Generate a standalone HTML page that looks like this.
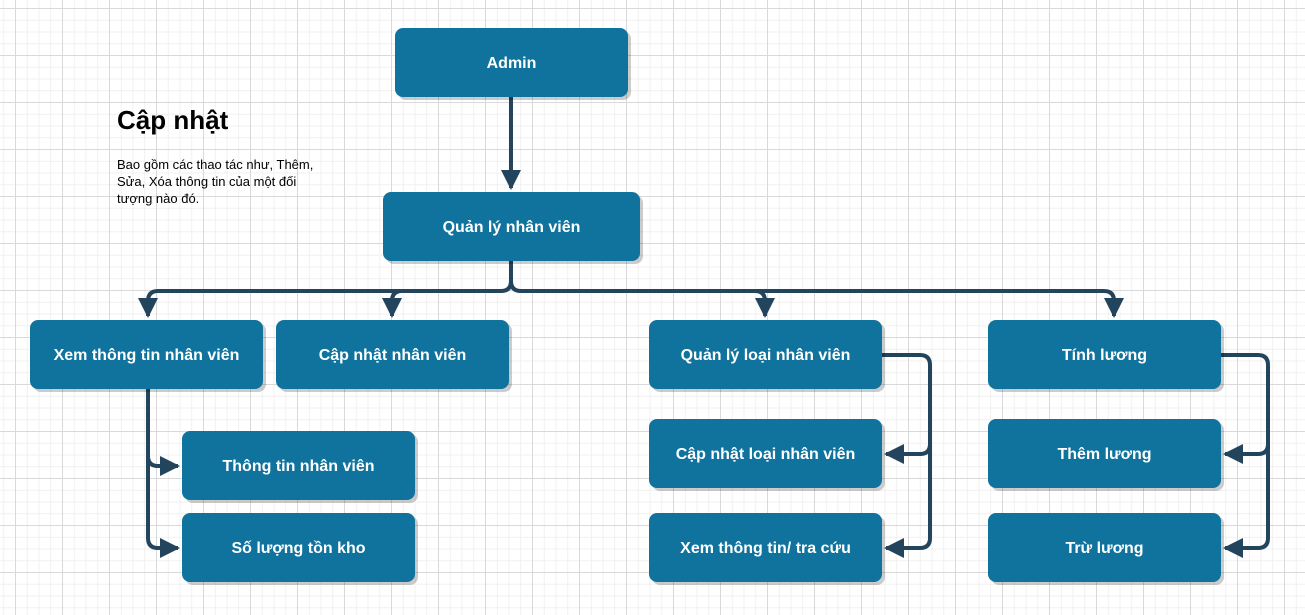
<!DOCTYPE html>
<html><head><meta charset="utf-8"><style>
html,body{margin:0;padding:0}
body{width:1305px;height:615px;overflow:hidden;background-color:#fff;
background-image:linear-gradient(to right,#d9d9d9 1px,transparent 1px),linear-gradient(to bottom,#d9d9d9 1px,transparent 1px),linear-gradient(to right,#f0f0f0 1px,transparent 1px),linear-gradient(to bottom,#f0f0f0 1px,transparent 1px);
background-size:47px 47px,47px 47px,11.75px 11.75px,11.75px 11.75px;background-position:15px 8px,15px 8px,15px 8px,15px 8px;font-family:"Liberation Sans","Noto Sans CJK SC",sans-serif;position:relative}
.b{position:absolute;width:233px;height:69px;box-sizing:border-box;padding-top:3px;background:#10739e;border-radius:8px;box-shadow:3px 3px 0 rgba(0,0,0,0.2);color:#fff;font-weight:bold;font-size:16px;display:flex;align-items:center;justify-content:center}
svg{position:absolute;left:0;top:0}
</style></head><body>
<svg width="1305" height="615">
<defs><marker id="a" markerWidth="5" markerHeight="5" refX="4.5" refY="2.5" orient="auto" markerUnits="strokeWidth"><path d="M0,0 L5,2.5 L0,5 z" fill="#23445d"/></marker></defs>
<g fill="none" stroke="#23445d" stroke-width="4" stroke-linejoin="round">
<path d="M511,97 V188" marker-end="url(#a)"/>
<path d="M511,261 V281 Q511,291 501,291 H158 Q148,291 148,301 V316" marker-end="url(#a)"/>
<path d="M402,291 Q392,291 392,301 V316" marker-end="url(#a)"/>
<path d="M511,281 Q511,291 521,291 H755 Q765,291 765,301 V316" marker-end="url(#a)"/>
<path d="M755,291 H1104 Q1114,291 1114,301 V316" marker-end="url(#a)"/>
<path d="M148,389 V456 Q148,466 158,466 H178" marker-end="url(#a)"/>
<path d="M148,456 V538 Q148,548 158,548 H178" marker-end="url(#a)"/>
<path d="M882,355 H920 Q930,355 930,365 V444 Q930,454 920,454 H886" marker-end="url(#a)"/>
<path d="M930,444 V538 Q930,548 920,548 H886" marker-end="url(#a)"/>
<path d="M1221,355 H1258 Q1268,355 1268,365 V444 Q1268,454 1258,454 H1225" marker-end="url(#a)"/>
<path d="M1268,444 V538 Q1268,548 1258,548 H1225" marker-end="url(#a)"/>
</g></svg>
<div style="position:absolute;left:117px;top:105px;font-size:26px;font-weight:bold;color:#000">Cập nhật</div>
<div style="position:absolute;left:117px;top:156px;width:215px;font-size:13px;line-height:17px;color:#000">Bao gồm các thao tác như, Thêm, Sửa, Xóa thông tin của một đối tượng nào đó.</div>
<div class="b" style="left:395px;top:28px">Admin</div>
<div class="b" style="left:383px;top:192px;width:257px">Quản lý nhân viên</div>
<div class="b" style="left:30px;top:320px">Xem thông tin nhân viên</div>
<div class="b" style="left:276px;top:320px">Cập nhật nhân viên</div>
<div class="b" style="left:649px;top:320px">Quản lý loại nhân viên</div>
<div class="b" style="left:988px;top:320px">Tính lương</div>
<div class="b" style="left:182px;top:431px">Thông tin nhân viên</div>
<div class="b" style="left:182px;top:513px">Số lượng tồn kho</div>
<div class="b" style="left:649px;top:419px">Cập nhật loại nhân viên</div>
<div class="b" style="left:649px;top:513px">Xem thông tin/ tra cứu</div>
<div class="b" style="left:988px;top:419px">Thêm lương</div>
<div class="b" style="left:988px;top:513px">Trừ lương</div>
</body></html>
